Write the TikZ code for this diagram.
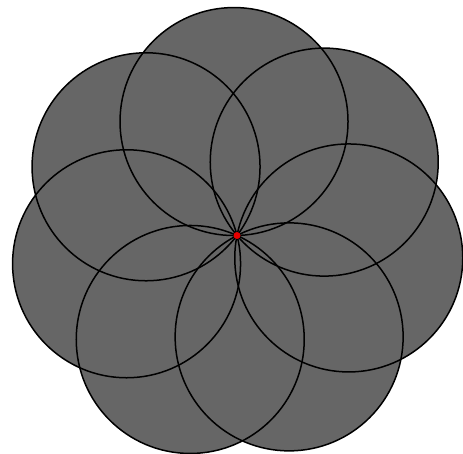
\documentclass[tikz,border=0pt]{standalone}
\usetikzlibrary{calc}
\definecolor{petal}{RGB}{102,102,102}
\definecolor{dotred}{RGB}{230,0,0}
\tikzset{petalfill/.style={fill=petal,draw=none},petalline/.style={draw=black,line width=1.5pt}}
\begin{document}
\begin{tikzpicture}[x=1pt,y=-1pt]
\useasboundingbox (0,0) rectangle (463,454);
\coordinate (O) at (237,235.5);
\foreach \k in {0,...,6}{
  \pgfmathsetmacro{\ang}{-(91.5+\k*360/7)}
  \coordinate (c\k) at ($(O)+(\ang:114)$);
}
\foreach \k in {0,...,6}{
  \path[petalfill] (c\k) circle[radius=114];
}
\foreach \k in {0,...,6}{
  \path[petalline] (c\k) circle[radius=114];
}
\fill[dotred] (O) circle[radius=3.5];
\end{tikzpicture}
\end{document}
